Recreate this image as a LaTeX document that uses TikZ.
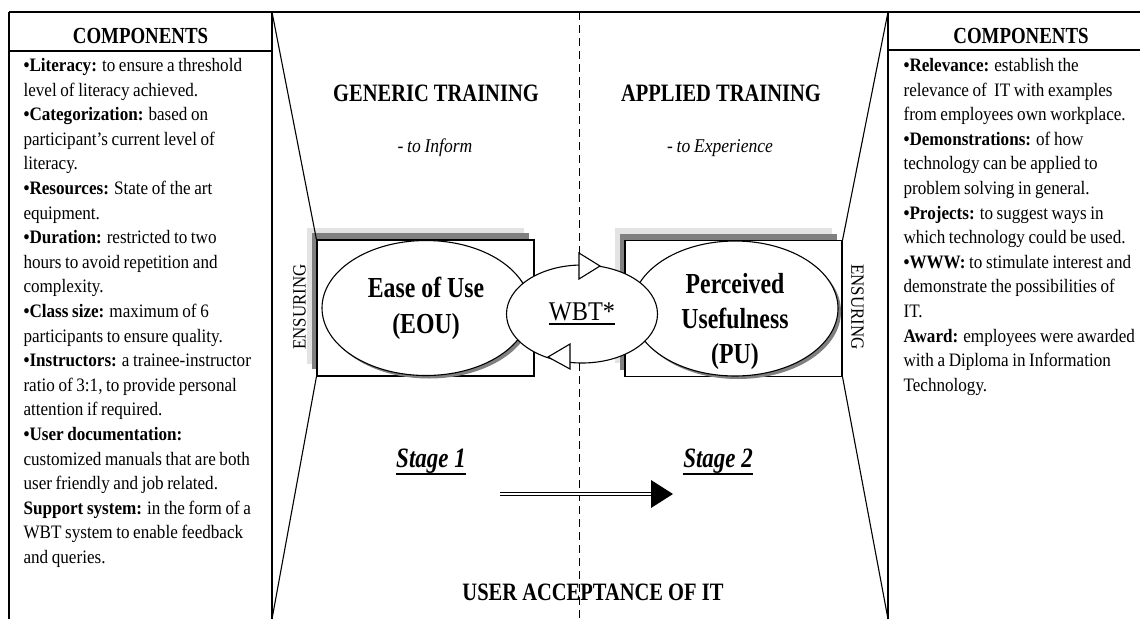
\documentclass[tikz,border=0pt]{standalone}
\usepackage{fontspec}
\setmainfont{Liberation Serif}
\newfontfamily\bodyf[FakeStretch=0.9,WordSpace=0.85]{Liberation Serif}
\newfontfamily\condf[FakeStretch=0.82]{Liberation Serif}
\usetikzlibrary{shapes.geometric,shadows}
\definecolor{shlight}{HTML}{E3E3E3}
\definecolor{shdark}{HTML}{808080}
\newcommand\thickul[2]{\setbox0\hbox{#2}\rlap{\rule[#1]{\wd0}{2.4pt}}\box0}
\newcommand\bul{\textbf{•}}
\begin{document}
\begin{tikzpicture}[x=1pt,y=-1pt,line width=1.1pt,
  coltext/.style={anchor=north west, inner sep=0pt, align=left, font=\bodyf\fontsize{19}{24.6}\selectfont},
  header/.style={inner sep=0pt, font=\condf\bfseries\fontsize{23}{26}\selectfont},
  title/.style={inner sep=0pt, font=\condf\bfseries\fontsize{25}{28}\selectfont},
  subtitle/.style={inner sep=0pt, font=\bodyf\itshape\fontsize{19.5}{22}\selectfont},
  stagebox/.style={draw, fill=white, minimum width=217pt, minimum height=136pt, inner sep=0pt},
  construct/.style={ellipse, draw, fill=white, inner sep=0pt, align=center,
    font=\condf\bfseries\fontsize{29}{36}\selectfont,
    drop shadow={shadow xshift=3pt, shadow yshift=-3pt, fill=shdark, opacity=1}},
  ensure/.style={inner sep=0pt, font=\bodyf\fontsize{18.7}{20}\selectfont},
  stagelabel/.style={inner sep=0pt, font=\condf\bfseries\itshape\fontsize{28}{30}\selectfont},
  opentri/.style={draw, fill=white, line join=miter},
  midline/.style={line width=1pt, dash pattern=on 8pt off 5pt}
]
\useasboundingbox (0,0) rectangle (1140,619);

% frame coordinates
\coordinate (ltl) at (9,12);
\coordinate (lbl) at (9,619);
\coordinate (ltr) at (272,12);
\coordinate (lbr) at (272,619);
\coordinate (lhl) at (9,51);
\coordinate (lhr) at (272,51);
\coordinate (rtl) at (888,12);
\coordinate (rbl) at (888,619);
\coordinate (rtr) at (1140,12);
\coordinate (rhl) at (888,50);
\coordinate (rhr) at (1140,50);
\coordinate (midtop) at (579,12);
\coordinate (midbot) at (579,619);

% panels
\draw (ltl) -- (rtr);
\draw (ltl) -- (lbl);
\draw (ltr) -- (lbr);
\draw (lhl) -- (lhr);
\draw (rtl) -- (rbl);
\draw (rhl) -- (rhr);

% centre dashed line
\draw[midline] (midtop) -- (midbot);

% headers and column texts
\node[header] (lhead) at (140.5,36) {COMPONENTS};
\node[header] (rhead) at (1021,36) {COMPONENTS};

\node[coltext] (ltext) at (23,56) {\rule{0pt}{15pt}\bul\textbf{Literacy:} to ensure a threshold\\
level of literacy achieved.\\
\bul\textbf{Categorization:} based on\\
participant’s current level of\\
literacy.\\
\bul\textbf{Resources:} State of the art\\
equipment.\\
\bul\textbf{Duration:} restricted to two\\
hours to avoid repetition and\\
complexity.\\
\bul\textbf{Class size:} maximum of 6\\
participants to ensure quality.\\
\bul\textbf{Instructors:} a trainee-instructor\\
ratio of 3:1, to provide personal\\
attention if required.\\
\bul\textbf{User documentation:}\\
customized manuals that are both\\
user friendly and job related.\\
\textbf{Support system:} in the form of a\\
WBT system to enable feedback\\
and queries.};

\node[coltext] (rtext) at (903,56) {\rule{0pt}{15pt}\bul\textbf{Relevance:} establish the\\
relevance of \ IT with examples\\
from employees own workplace.\\
\bul\textbf{Demonstrations:} of how\\
technology can be applied to\\
problem solving in general.\\
\bul\textbf{Projects:} to suggest ways in\\
which technology could be used.\\
\bul\textbf{WWW:} to stimulate interest and\\
demonstrate the possibilities of\\
IT.\\
\textbf{Award:} employees were awarded\\
with a Diploma in Information\\
Technology.};

% titles
\node[title] (gen) at (436,93) {GENERIC TRAINING};
\node[subtitle] (inform) at (435,148) {- to Inform};
\node[title] (app) at (721,93) {APPLIED TRAINING};
\node[subtitle] (exper) at (720,148) {- to Experience};

% boxes with stepped shadows
\fill[shlight] (307,228) rectangle (524,364);
\fill[shdark] (312,233) rectangle (529,369);
\node[stagebox] (eoubox) at (425.5,308) {};
\fill[shlight] (615,228) rectangle (832,363);
\fill[shdark] (620,234) rectangle (837,370);
\node[stagebox] (pubox) at (733.5,308.5) {};

% funnel lines
\draw (ltr) -- (eoubox.north west);
\draw (eoubox.south west) -- (lbr);
\draw (rtl) -- (pubox.north east);
\draw (pubox.south east) -- (rbl);

% ENSURING labels
\node[ensure, rotate=90] (ensl) at (299.5,307) {ENSURING};
\node[ensure, rotate=-90] (ensr) at (857.5,307) {ENSURING};

% construct ellipses
\node[construct, minimum width=208pt, minimum height=135pt] (eou) at (426,308) {Ease of Use\\(EOU)};
\node[construct, minimum width=206pt, minimum height=135pt] (pu) at (735,308.5) {};
\node[inner sep=0pt, align=center, font=\condf\bfseries\fontsize{29}{35}\selectfont] (putext) at (735,322) {Perceived\\Usefulness\\(PU)};

% WBT ellipse
\node[ellipse, draw, fill=white, minimum width=151pt, minimum height=98pt, inner sep=0pt,
  font=\bodyf\fontsize{27}{30}\selectfont] (wbt) at (582,314) {\thickul{-5pt}{WBT*}};
\draw[opentri] (579,253) -- (579,279) -- (600,266) -- cycle;
\draw[opentri] (570,344) -- (570,369) -- (548,357) -- cycle;

% stages
\node[stagelabel] (st1) at (431,462) {\thickul{-8pt}{Stage 1}};
\node[stagelabel] (st2) at (718,462) {\thickul{-8pt}{Stage 2}};
\coordinate (arrowstart) at (500,494);
\coordinate (arrowbase) at (651,494);
\coordinate (arrowtip) at (673,494);
\draw[double, double distance=2pt, line width=1.2pt] (arrowstart) -- (arrowbase);
\fill (651,480) -- (arrowtip) -- (651,508) -- cycle;

\node[title] (uat) at (593,592) {USER ACCEPTANCE OF IT};
\end{tikzpicture}
\end{document}
